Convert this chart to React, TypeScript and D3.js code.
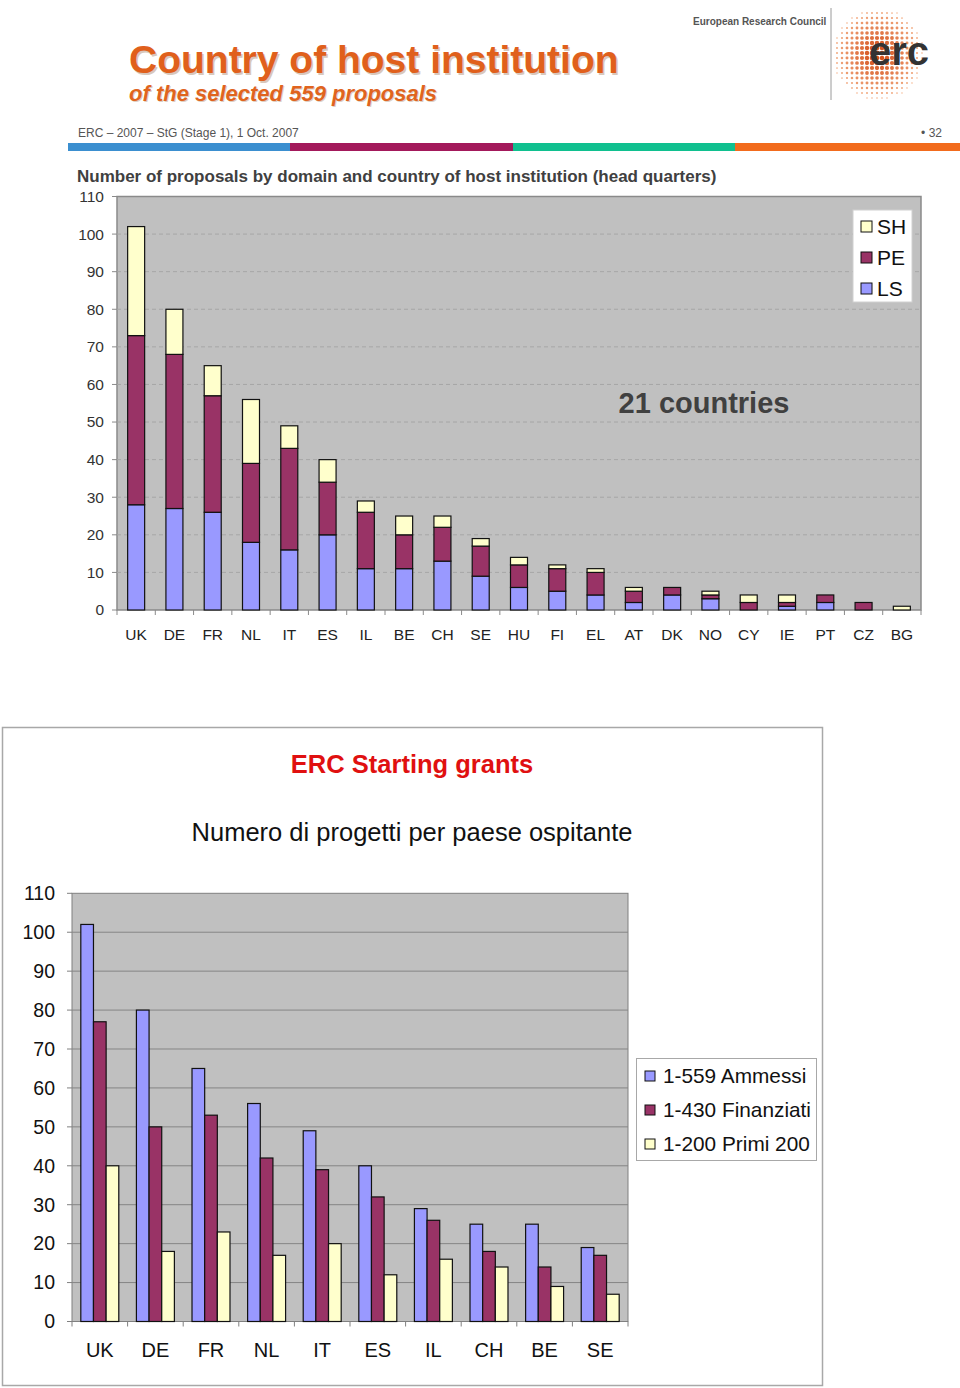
import React from 'react'
import * as d3 from 'd3'

// top chart: proposals by domain and country (stacked)
const countries = ['UK', 'DE', 'FR', 'NL', 'IT', 'ES', 'IL', 'BE', 'CH', 'SE', 'HU', 'FI', 'EL', 'AT', 'DK', 'NO', 'CY', 'IE', 'PT', 'CZ', 'BG']
const lsValues = [28, 27, 26, 18, 16, 20, 11, 11, 13, 9, 6, 5, 4, 2, 4, 3, 0, 1, 2, 0, 0]
const peValues = [45, 41, 31, 21, 27, 14, 15, 9, 9, 8, 6, 6, 6, 3, 2, 1, 2, 1, 2, 2, 0]
const shValues = [29, 12, 8, 17, 6, 6, 3, 5, 3, 2, 2, 1, 1, 1, 0, 1, 2, 2, 0, 0, 1]
const domainKeys = ['LS', 'PE', 'SH']
const domainColors = ['#9999ff', '#993366', '#ffffcc']

// bottom chart: ERC starting grants (grouped)
const grantCountries = ['UK', 'DE', 'FR', 'NL', 'IT', 'ES', 'IL', 'CH', 'BE', 'SE']
const ammessi = [102, 80, 65, 56, 49, 40, 29, 25, 25, 19]
const finanziati = [77, 50, 53, 42, 39, 32, 26, 18, 14, 17]
const primi200 = [40, 18, 23, 17, 20, 12, 16, 14, 9, 7]
const grantSeries = ['1-559 Ammessi', '1-430 Finanziati', '1-200 Primi 200']

const yTicks = [0, 10, 20, 30, 40, 50, 60, 70, 80, 90, 100, 110]

const FONT = '"Liberation Sans", Arial, sans-serif'

const ErcLogo = () => {
  const cx = 878, cy = 54, R = 46
  const dots: { x: number; y: number; r: number; c: string }[] = []
  const col = d3.interpolateRgb('#d0440c', '#f5b48c')
  for (let gy = -R; gy <= R; gy += 5) {
    for (let gx = -R; gx <= R; gx += 5) {
      const d = Math.sqrt(gx * gx + gy * gy) / R
      if (d > 1) continue
      const r = 0.7 + 1.7 * (1 - Math.pow(d, 1.6))
      dots.push({ x: cx + gx, y: cy + gy, r, c: col(d) })
    }
  }
  return (
    <g>
      {dots.map((p, i) => (
        <circle key={i} cx={p.x} cy={p.y} r={p.r} fill={p.c} />
      ))}
      <text x={899} y={65} textAnchor="middle" fontFamily={FONT} fontWeight="bold" fontSize={40} fill="#333">erc</text>
    </g>
  )
}

const TopChart = () => {
  const left = 117, right = 921, top = 196.5, bottom = 610
  const x = d3.scaleBand().domain(countries).range([left, right]).paddingInner(0.556).paddingOuter(0.278)
  const xStep = d3.scaleBand().domain(countries).range([left, right])
  const y = d3.scaleLinear().domain([0, 110]).range([bottom, top])
  const rows = countries.map((c, i) => ({ country: c, LS: lsValues[i], PE: peValues[i], SH: shValues[i] }))
  const stacked = d3.stack<any>().keys(domainKeys)(rows)

  return (
    <g fontFamily={FONT}>
      <rect x={left} y={top} width={right - left} height={bottom - top} fill="#c0c0c0" stroke="#8a8a8a" strokeWidth={1.5} />
      {yTicks.filter((t) => t > 0 && t < 110).map((t) => (
        <line key={t} x1={left} x2={right} y1={y(t)} y2={y(t)} stroke="#a6a6a6" strokeDasharray="4,3" />
      ))}
      {yTicks.map((t) => (
        <g key={t}>
          <line x1={left - 5} x2={left} y1={y(t)} y2={y(t)} stroke="#8a8a8a" />
          <text x={104} y={y(t)} dy="0.35em" textAnchor="end" fontSize={15.5} fill="#333">{t}</text>
        </g>
      ))}
      {countries.map((c) => (
        <line key={c} x1={xStep(c)!} x2={xStep(c)!} y1={bottom} y2={bottom + 5} stroke="#8a8a8a" />
      ))}
      <line x1={right} x2={right} y1={bottom} y2={bottom + 5} stroke="#8a8a8a" />
      {stacked.map((s, si) => (
        <g key={s.key}>
          {s.map((d, i) => (d[1] - d[0] > 0 ? (
            <rect key={i} x={x(countries[i])!} width={x.bandwidth()} y={y(d[1])} height={y(d[0]) - y(d[1])}
              fill={domainColors[si]} stroke="#111" strokeWidth={1.2} />
          ) : null))}
        </g>
      ))}
      {countries.map((c) => (
        <text key={c} x={xStep(c)! + xStep.bandwidth() / 2} y={640} textAnchor="middle" fontSize={15.5} fill="#222">{c}</text>
      ))}
      <text x={704} y={413} textAnchor="middle" fontSize={29} fontWeight="bold" fill="#404040">21 countries</text>
      <g>
        <rect x={853} y={210} width={59} height={92} fill="#fff" stroke="#d0d0d0" />
        {[...domainKeys].reverse().map((k, i) => {
          const idx = domainKeys.indexOf(k)
          const cy = 226.5 + i * 31
          return (
            <g key={k}>
              <rect x={861} y={cy - 5.5} width={11} height={11} fill={domainColors[idx]} stroke="#111" strokeWidth={1} />
              <text x={877} y={cy} dy="0.36em" fontSize={21} fill="#111">{k}</text>
            </g>
          )
        })}
      </g>
    </g>
  )
}

const BottomChart = () => {
  const left = 72, right = 628, top = 893.3, bottom = 1321.5
  const x = d3.scaleBand().domain(grantCountries).range([left, right]).paddingInner(0.317).paddingOuter(0.1585)
  const xStep = d3.scaleBand().domain(grantCountries).range([left, right])
  const xs = d3.scaleBand().domain(grantSeries).range([0, x.bandwidth()])
  const y = d3.scaleLinear().domain([0, 110]).range([bottom, top])
  const values = [ammessi, finanziati, primi200]
  const colors = ['#9999ff', '#993366', '#ffffcc']

  return (
    <g fontFamily={FONT}>
      <rect x={2.5} y={727.5} width={820} height={658} fill="#fff" stroke="#a8a8a8" strokeWidth={1.5} />
      <text x={412} y={773} textAnchor="middle" fontSize={25.5} fontWeight="bold" fill="#e01010">ERC Starting grants</text>
      <text x={412} y={841} textAnchor="middle" fontSize={25.5} fill="#111">Numero di progetti per paese ospitante</text>
      <rect x={left} y={top} width={right - left} height={bottom - top} fill="#c0c0c0" stroke="#808080" strokeWidth={1} />
      {yTicks.filter((t) => t > 0 && t < 110).map((t) => (
        <line key={t} x1={left} x2={right} y1={y(t)} y2={y(t)} stroke="#858585" strokeWidth={1} />
      ))}
      {yTicks.map((t) => (
        <g key={t}>
          <line x1={left - 5} x2={left} y1={y(t)} y2={y(t)} stroke="#808080" />
          <text x={55} y={y(t)} dy="0.35em" textAnchor="end" fontSize={19.5} fill="#111">{t}</text>
        </g>
      ))}
      {grantCountries.map((c) => (
        <line key={c} x1={xStep(c)!} x2={xStep(c)!} y1={bottom} y2={bottom + 5} stroke="#808080" />
      ))}
      <line x1={right} x2={right} y1={bottom} y2={bottom + 5} stroke="#808080" />
      {grantSeries.map((s, si) => (
        <g key={s}>
          {grantCountries.map((c, i) => (
            <rect key={c} x={x(c)! + xs(s)!} width={xs.bandwidth()} y={y(values[si][i])} height={bottom - y(values[si][i])}
              fill={colors[si]} stroke="#111" strokeWidth={1.2} />
          ))}
        </g>
      ))}
      {grantCountries.map((c) => (
        <text key={c} x={xStep(c)! + xStep.bandwidth() / 2} y={1357} textAnchor="middle" fontSize={20} fill="#111">{c}</text>
      ))}
      <g>
        <rect x={636.5} y={1058.5} width={180} height={102} fill="#fff" stroke="#a8a8a8" />
        {grantSeries.map((s, i) => {
          const cy = 1076 + i * 34
          return (
            <g key={s}>
              <rect x={645} y={cy - 5} width={10} height={10} fill={colors[i]} stroke="#111" strokeWidth={1} />
              <text x={663} y={cy} dy="0.36em" fontSize={20.8} fill="#111">{s}</text>
            </g>
          )
        })}
      </g>
    </g>
  )
}

export default function App() {
  return (
    <svg width={960} height={1388} style={{ position: 'absolute', left: 0, top: 0, background: '#fff' }}>
      <rect x={0} y={0} width={960} height={1388} fill="#fff" />
      {/* slide header */}
      <g fontFamily={FONT}>
        <text x={130.5} y={74.5} fontSize={39} fontWeight="bold" fill="#d8c8bc">Country of host institution</text>
        <text x={129} y={73} fontSize={39} fontWeight="bold" fill="#e0601c">Country of host institution</text>
        <text x={130} y={102} fontSize={22} fontWeight="bold" fontStyle="italic" fill="#dcd0c4">of the selected 559 proposals</text>
        <text x={129} y={101} fontSize={22} fontWeight="bold" fontStyle="italic" fill="#e0641e">of the selected 559 proposals</text>
        <text x={693} y={25} fontSize={10} fontWeight="bold" fill="#555">European Research Council</text>
        <line x1={831} x2={831} y1={8} y2={100} stroke="#9a9a9a" strokeWidth={1} />
        <text x={78} y={137} fontSize={12} fill="#555">ERC – 2007 – StG (Stage 1), 1 Oct. 2007</text>
        <text x={942} y={137} fontSize={12} textAnchor="end" fill="#555">• 32</text>
        <rect x={68} y={143} width={222} height={8} fill="#3b8fd0" />
        <rect x={290} y={143} width={223} height={8} fill="#a3195b" />
        <rect x={513} y={143} width={222} height={8} fill="#10c08f" />
        <rect x={735} y={143} width={225} height={8} fill="#f26b1d" />
        <text x={77} y={182} fontSize={17} fontWeight="bold" fill="#404040">Number of proposals by domain and country of host institution (head quarters)</text>
      </g>
      <ErcLogo />
      <TopChart />
      <BottomChart />
    </svg>
  )
}
